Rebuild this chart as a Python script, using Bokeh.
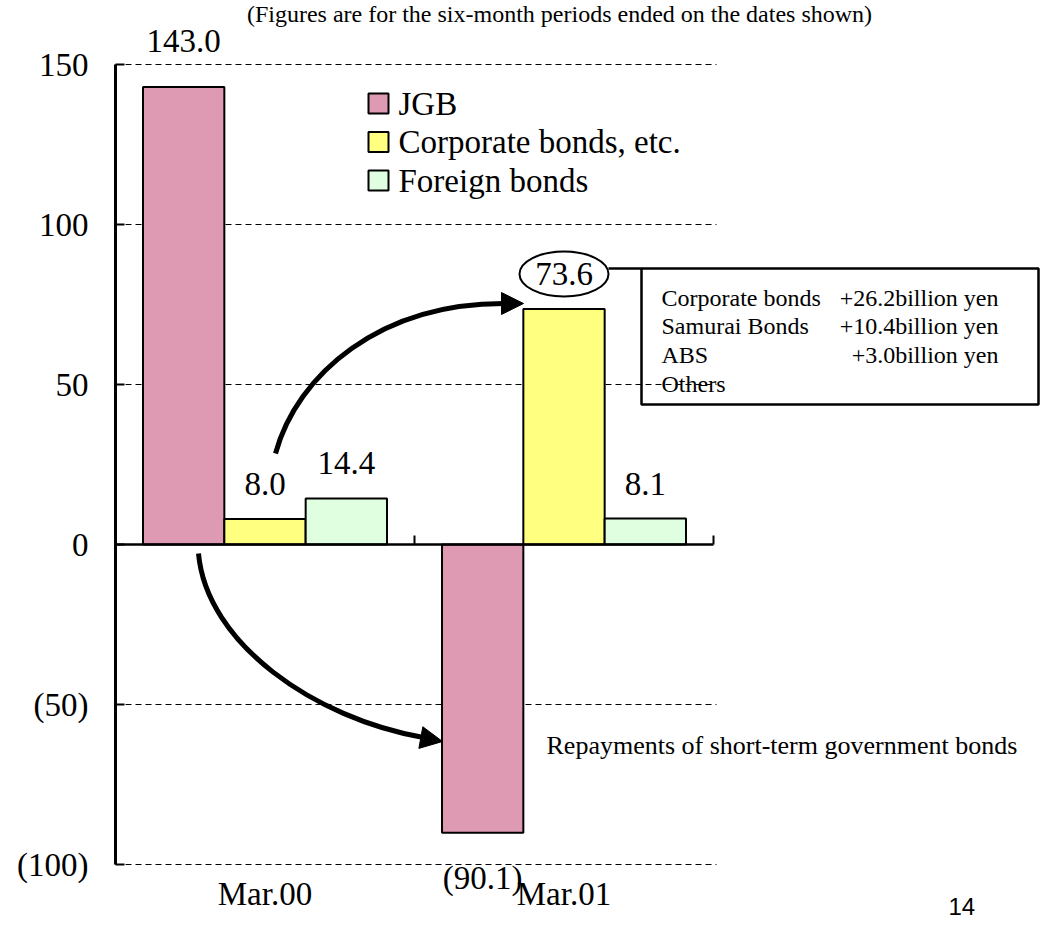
from bokeh.plotting import figure
from bokeh.models import (ColumnDataSource, LinearAxis, FixedTicker, Grid, Range1d,
                          Arrow, NormalHead)
from bokeh.transform import dodge
from bokeh.core.properties import value
from bokeh.embed import file_html
from bokeh.resources import INLINE

# ---- data -------------------------------------------------------------
periods = ["Mar.00", "Mar.01"]
jgb = [143.0, -90.1]
corporate = [8.0, 73.6]
foreign = [14.4, 8.1]
series_names = ["JGB", "Corporate bonds, etc.", "Foreign bonds"]
y_ticks = [-100, -50, 0, 50, 100, 150]

breakdown_items = ["Corporate bonds", "Samurai Bonds", "ABS", "Others"]
breakdown_amounts = [26.2, 10.4, 3.0, None]

subtitle = "(Figures are for the six-month periods ended on the dates shown)"
repay_note = "Repayments of short-term government bonds"
page_no = "14"

# ---- styling ----------------------------------------------------------
SERIF = "Liberation Serif"
SANS = "Liberation Sans"
colors = ["#DE9AB3", "#FFFF80", "#E0FFE0"]

W, H = 1048, 927
AX_PX = 115        # pixel column of the value axis
CAT_PX = 299       # pixels per period
ZERO_PX = 544      # pixel row of the zero line
UNIT_PX = 3.2      # pixels per value unit
BAR_W = 0.272
LABEL_GAP_UP = -35     # screen offset of labels above positive bars
LABEL_GAP_DOWN = 45    # screen offset of labels below negative bars
TALL_LABEL_GAP = -46   # the tallest bar's label sits a little higher


def dx(px):
    return (px - AX_PX) / CAT_PX


def dy(py):
    return (ZERO_PX - py) / UNIT_PX


def fmt(v, digits=1):
    s = f"{abs(v):.{digits}f}"
    return f"({s})" if v < 0 else s


p = figure(width=W, height=H, output_backend="svg", toolbar_location=None,
           x_range=Range1d(dx(0), dx(W)), y_range=Range1d(dy(H), dy(0)),
           x_axis_location=None, y_axis_location=None,
           min_border=0, outline_line_color=None,
           background_fill_color="white", border_fill_color="white")
for g in p.grid:
    g.visible = False

# dashed reference lines, limited to the period span
grid = Grid(dimension=1, ticker=FixedTicker(ticks=[t for t in y_ticks if t != 0]),
            cross_bounds=(0, len(periods) + 0.01),
            grid_line_color="black", grid_line_width=1, grid_line_dash="6 4")
p.add_layout(grid)

centers = [i + 0.5 for i in range(len(periods))]
src = ColumnDataSource(dict(xc=centers, jgb=jgb, corp=corporate, foreign=foreign))

# curved arrows (under the bars)
arrow_line = dict(line_color="black", line_width=5)
p.bezier(x0=[dx(275)], y0=[dy(453)], cx0=[dx(297)], cy0=[dy(373)],
         cx1=[dx(380)], cy1=[dy(303)], x1=[dx(503)], y1=[dy(303)], **arrow_line)
p.bezier(x0=[dx(198)], y0=[dy(553)], cx0=[dx(206)], cy0=[dy(643)],
         cx1=[dx(314)], cy1=[dy(718)], x1=[dx(423)], y1=[dy(737)], **arrow_line)

for col, off, color in zip(["jgb", "corp", "foreign"], [-BAR_W, 0, BAR_W], colors):
    p.vbar(x=dodge("xc", off), top=col, bottom=0, width=BAR_W, source=src,
           fill_color=color, line_color="black", line_width=2)

head = dict(size=22, line_color="black", fill_color="black", line_width=1)
p.add_layout(Arrow(end=NormalHead(**head), line_alpha=0,
                   x_start=dx(500), y_start=dy(303), x_end=dx(523), y_end=dy(303)))
p.add_layout(Arrow(end=NormalHead(**head), line_alpha=0,
                   x_start=dx(420), y_start=dy(737), x_end=dx(442), y_end=dy(741)))

# value labels above / below the bars
tallest = max(jgb + corporate + foreign)
lab_x, lab_y, lab_t, lab_off = [], [], [], []
for series, off in zip([jgb, corporate, foreign], [-BAR_W, 0, BAR_W]):
    for c, v in zip(centers, series):
        lab_x.append(c + off)
        lab_y.append(v)
        lab_t.append(fmt(v))
        if v < 0:
            lab_off.append(LABEL_GAP_DOWN)
        elif v == tallest:
            lab_off.append(TALL_LABEL_GAP)
        else:
            lab_off.append(LABEL_GAP_UP)
p.text(x="x", y="y", text="t", y_offset="o",
       source=ColumnDataSource(dict(x=lab_x, y=lab_y, t=lab_t, o=lab_off)),
       text_align="center", text_baseline="middle",
       text_font=value(SERIF), text_font_size="33px", text_color="black")

# ellipse around the Mar.01 corporate-bond figure and its breakdown box
ell_x = centers[1]
ell_y = corporate[1] - LABEL_GAP_UP / UNIT_PX
p.ellipse(x=[ell_x], y=[ell_y], width=89 / CAT_PX, height=45 / UNIT_PX,
          fill_color=None, line_color="black", line_width=2)
box_l, box_r, box_t, box_b = dx(641), dx(1038), dy(268), dy(404)
p.quad(left=[box_l], right=[box_r], top=[box_t], bottom=[box_b],
       fill_color=None, line_color="black", line_width=2.5)
p.segment(x0=[ell_x + 89 / CAT_PX / 2], y0=[box_t], x1=[box_l], y1=[box_t],
          line_color="black", line_width=2.5)

row_y = [dy(297 + 28.7 * i) for i in range(len(breakdown_items))]
p.text(x=[dx(661)] * len(breakdown_items), y=row_y, text=breakdown_items,
       text_align="left", text_baseline="middle",
       text_font=value(SERIF), text_font_size="24px", text_color="black")
amount_txt = [f"+{a:.1f}billion yen" if a is not None else "" for a in breakdown_amounts]
p.text(x=[dx(998)] * len(breakdown_items), y=row_y, text=amount_txt,
       text_align="right", text_baseline="middle",
       text_font=value(SERIF), text_font_size="24px", text_color="black")

p.text(x=[dx(546)], y=[dy(745)], text=[repay_note], text_align="left",
       text_baseline="middle", text_font=value(SERIF), text_font_size="26px",
       text_color="black")

# legend
leg_y = [dy(103 + 38.5 * i) for i in range(len(series_names))]
p.scatter(x=[dx(378)] * len(series_names), y=leg_y, marker="square", size=20,
          fill_color=colors, line_color="black", line_width=2)
p.text(x=[dx(398)] * len(series_names), y=leg_y, text=series_names,
       text_align="left", text_baseline="middle",
       text_font=value(SERIF), text_font_size="33px", text_color="black")

# subtitle and page number
p.text(x=[dx(559)], y=[dy(13)], text=[subtitle], text_align="center",
       text_baseline="middle", text_font=value(SERIF), text_font_size="24px",
       text_color="black")
p.text(x=[dx(948)], y=[dy(914)], text=[page_no], text_align="left",
       text_baseline="bottom", text_font=value(SANS), text_font_size="24px",
       text_color="black")

# value axis
yax = LinearAxis(fixed_location=0, bounds=(y_ticks[0], y_ticks[-1]),
                 ticker=FixedTicker(ticks=y_ticks),
                 major_label_overrides={t: fmt(t, 0) for t in y_ticks},
                 axis_line_color="black", axis_line_width=3,
                 major_tick_in=9, major_tick_out=0, major_tick_line_width=2,
                 minor_tick_line_color=None, major_label_standoff=27,
                 major_label_text_font=SERIF, major_label_text_font_size="33px",
                 major_label_text_color="black")
p.add_layout(yax, "left")

# zero line with period separators
zax = LinearAxis(fixed_location=0, bounds=(0, len(periods)),
                 ticker=FixedTicker(ticks=list(range(len(periods) + 1))),
                 axis_line_color="black", axis_line_width=2.5,
                 major_tick_in=9, major_tick_out=0, major_tick_line_width=2,
                 minor_tick_line_color=None, major_label_text_color=None)
p.add_layout(zax, "below")

# period labels
cax = LinearAxis(fixed_location=y_ticks[0], ticker=FixedTicker(ticks=centers),
                 major_label_overrides=dict(zip(centers, periods)),
                 axis_line_color=None, major_tick_line_color=None,
                 minor_tick_line_color=None, major_label_standoff=5,
                 major_label_text_font=SERIF, major_label_text_font_size="33px",
                 major_label_text_color="black")
p.add_layout(cax, "below")

open("out.html", "w").write(file_html(p, INLINE))
